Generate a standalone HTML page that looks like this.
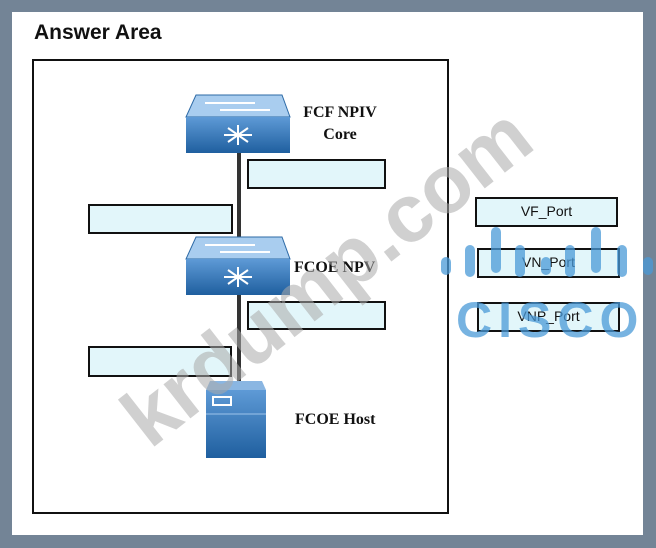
<!DOCTYPE html>
<html><head><meta charset="utf-8"><style>
body{margin:0;width:656px;height:548px;background:#738496;position:relative;overflow:hidden;font-family:"Liberation Sans",sans-serif}
.abs{position:absolute}
.panel{left:12px;top:12px;width:631px;height:523px;background:#fff}
.box{border:2px solid #111;background:#e2f6fa;box-sizing:border-box}
.lbl{font-family:"Liberation Serif",serif;font-weight:bold;font-size:16px;color:#111;text-align:center;line-height:22px}
.port{font-size:14px;text-align:center;line-height:25px;color:#111}
</style></head><body>
<div class="abs panel"></div>
<div class="abs" style="left:34px;top:21px;font-size:21px;font-weight:bold;color:#111">Answer Area</div>
<div class="abs" style="left:32px;top:59px;width:417px;height:455px;border:2px solid #111;box-sizing:border-box"></div>
<div class="abs" style="left:237px;top:150px;width:4px;height:235px;background:#333"></div>
<svg class="abs" style="left:0;top:0" width="656" height="548">
<defs><linearGradient id="g" x1="0" y1="0" x2="0" y2="1"><stop offset="0" stop-color="#5e9ad6"/><stop offset="1" stop-color="#1f5f9f"/></linearGradient></defs>
<g id="sw">
<polygon points="196,95 282,95 290,117 186,117" fill="#a9cdef" stroke="#2d6aa6"/>
<rect x="186" y="117" width="104" height="36" fill="url(#g)"/>
<path d="M205,103h50M220,110h50" stroke="#fff" stroke-width="2"/>
<g transform="translate(238,135)" stroke="#fff" stroke-width="2" fill="none"><path d="M-14,0h28M0,-10v20M-10,-7l20,14M10,-7l-20,14"/></g>
</g>
<use href="#sw" transform="translate(0,142)"/>
<polygon points="210,381 262,381 266,390 206,390" fill="#8ab6e2"/>
<rect x="206" y="390" width="60" height="68" fill="url(#g)"/>
<rect x="213" y="397" width="18" height="8" fill="none" stroke="#fff" stroke-width="2"/>
<line x1="206" y1="414" x2="266" y2="414" stroke="#9cc3ea"/>
</svg>
<div class="abs box" style="left:247px;top:159px;width:139px;height:30px"></div>
<div class="abs box" style="left:88px;top:204px;width:145px;height:30px"></div>
<div class="abs box" style="left:247px;top:301px;width:139px;height:29px"></div>
<div class="abs box" style="left:88px;top:346px;width:144px;height:31px"></div>
<div class="abs lbl" style="left:295px;top:102px;width:90px">FCF NPIV<br>Core</div>
<div class="abs lbl" style="left:294px;top:257px">FCOE NPV</div>
<div class="abs lbl" style="left:295px;top:409px">FCOE Host</div>
<div class="abs box port" style="left:475px;top:197px;width:143px;height:30px">VF_Port</div>
<div class="abs box port" style="left:477px;top:248px;width:143px;height:30px">VN_Port</div>
<div class="abs box port" style="left:477px;top:302px;width:143px;height:30px">VNP_Port</div>
<svg class="abs" style="left:0;top:0" width="656" height="548">
<g stroke="#4a9ad8" stroke-linecap="round" stroke-width="10" opacity="0.75">
<path d="M446,262v8M470,250v22M496,232v36M520,250v22M546,262v8M570,250v22M596,232v36M622,250v22M648,262v8"/>
</g>
<text x="456" y="337" font-family="Liberation Sans,sans-serif" font-weight="bold" font-size="50" fill="#4a9ad8" opacity="0.75" letter-spacing="6">CISCO</text>
<text x="0" y="0" transform="translate(150,450) rotate(-38)" font-family="Liberation Sans,sans-serif" font-weight="bold" font-size="82" fill="#aaa" opacity="0.55">krdump.com</text>
</svg>
</body></html>
